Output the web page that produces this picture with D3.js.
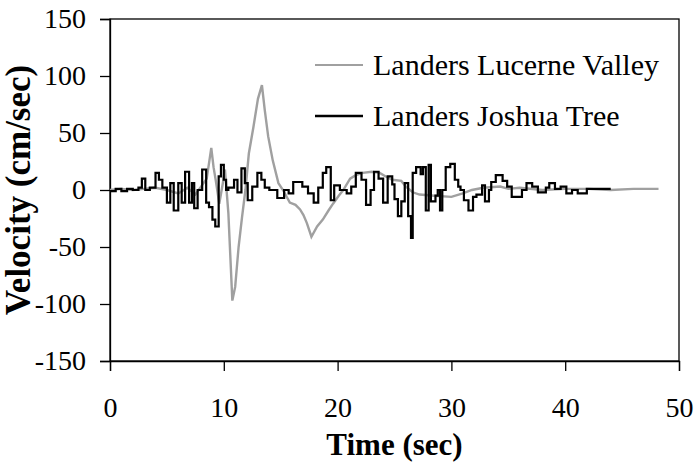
<!DOCTYPE html>
<html>
<head>
<meta charset="utf-8">
<script src="https://cdn.jsdelivr.net/npm/d3@7"></script>
<style>
  html, body { margin: 0; padding: 0; background: #fff; }
  svg { display: block; }
  text { font-family: "Liberation Serif", "Times New Roman", serif; fill: #000; }
</style>
</head>
<body>
<svg id="chart" width="694" height="464"></svg>
<script>
// ---------- data ----------
const seriesNames = ["Landers Lucerne Valley", "Landers Joshua Tree"];
const xTicks = [0, 10, 20, 30, 40, 50];
const yTicks = [-150, -100, -50, 0, 50, 100, 150];

// Landers Lucerne Valley: time (sec)
const lucerneTime = [0, 1, 2, 3, 4, 5, 6, 6.8, 7.5, 8.0, 8.5, 8.9, 9.1, 9.3, 9.6, 9.9, 10.1, 10.4, 10.75, 11.0, 11.3, 11.6, 11.9, 12.2, 12.6, 13.0, 13.35, 13.6, 13.9, 14.3, 14.8, 15.2, 15.8, 16.3, 16.7, 17.0, 17.3, 17.7, 18.2, 18.7, 19.2, 19.6, 20.1, 20.5, 21.1, 21.6, 22.2, 23.0, 23.7, 24.2, 24.8, 25.6, 26.0, 26.6, 27.2, 28.5, 30.0, 31.0, 31.8, 32.8, 34.3, 35.0, 36.0, 38.0, 40.0, 42.0, 44.0, 46.0, 48.2];
// Landers Lucerne Valley: velocity (cm/sec)
const lucerneVel = [0, 1, 0, 1, 2, 0, -3, 2, -4, 3, 10, 37, 20, 8, -12, 5, 18, -20, -97, -85, -50, -24, 0, 32, 55, 80, 92, 70, 47, 26, 6, 0, -11, -13, -17, -22, -29, -41, -32, -26, -18, -12, -5, 0, 10, 13, 15, 16, 15, 12, 9, 8, 3, -2, -4, -5, -6, -3, 0, 2, 3, 1, 2, 0, 1, 1, 0, 1, 1];

// Landers Joshua Tree: time (sec)
const joshuaTime = [0, 0.5, 1.0, 1.5, 2.0, 2.5, 2.8, 3.1, 3.5, 4.0, 4.3, 4.6, 5.0, 5.3, 5.6, 6.0, 6.3, 6.6, 6.95, 7.2, 7.4, 7.7, 8.1, 8.45, 8.7, 9.0, 9.25, 9.55, 9.75, 10.0, 10.2, 10.4, 10.9, 11.2, 11.55, 11.85, 12.1, 12.5, 12.95, 13.3, 13.6, 14.0, 14.7, 15.3, 15.7, 16.1, 16.9, 17.4, 17.9, 18.3, 18.7, 19.0, 19.4, 19.7, 20.2, 20.8, 21.2, 21.6, 22.1, 22.5, 22.9, 23.2, 23.6, 24.0, 24.4, 24.8, 25.0, 25.3, 25.6, 25.9, 26.2, 26.45, 26.6, 26.9, 27.3, 27.5, 27.75, 28.0, 28.2, 28.6, 28.8, 29.0, 29.2, 29.5, 29.9, 30.3, 30.6, 30.8, 31.1, 31.5, 31.9, 32.2, 32.7, 32.95, 33.3, 33.5, 33.9, 34.5, 34.9, 35.3, 36.2, 36.6, 37.1, 37.6, 38.3, 38.6, 39.1, 39.6, 40.1, 40.6, 41.1, 41.9, 44.0];
// Landers Joshua Tree: velocity (cm/sec)
const joshuaVel = [-1, 1, -1, 1, 0, 2, 10, 0, 2, 15, 9, 2, -11, 6, -18, 6, -11, 16, -11, 6, -16, 0, 18, -11, -15, -26, -32, 12, 22, 9, 0, 2, 9, -2, 19, 6, -9, 3, 15, 9, 2, 0, -7, 0, -3, 7, 3, -3, -11, 2, 15, 20, -9, 4, 0, -3, 3, 15, 9, -13, 0, 16, 10, -11, 12, 5, -8, -23, -10, 6, -23, -42, 15, 20, 14, 20, -18, 22, -10, -5, 0, -18, 0, 20, 23, 9, 3, 0, -9, -18, -6, -4, 4, -10, 0, 7, 13, 8, 3, -6, 0, 6, 3, -2, 2, 6, 1, 3, -3, 0, -3, 1, 1];

// ---------- chart ----------
const svg = d3.select("#chart");
const m = { left: 110, top: 19, right: 15, bottom: 103 };
const W = 694 - m.left - m.right;
const H = 464 - m.top - m.bottom;

const x = d3.scaleLinear().domain([0, 50]).range([0, W]);
const y = d3.scaleLinear().domain([-150, 150]).range([H, 0]);

const g = svg.append("g").attr("transform", `translate(${m.left},${m.top})`);

// frame
g.append("rect").attr("x", 0).attr("y", 0).attr("width", W).attr("height", H)
  .attr("fill", "none").attr("stroke", "#000").attr("stroke-width", 1.3);

// axes
const xAxis = g.append("g").attr("transform", `translate(0,${H})`)
  .call(d3.axisBottom(x).tickValues(xTicks).tickSize(10).tickPadding(26).tickFormat(d3.format("d")));
const yAxis = g.append("g")
  .call(d3.axisLeft(y).tickValues(yTicks).tickSize(10).tickPadding(14).tickFormat(d => d < 0 ? "-" + Math.abs(d) : d));
[xAxis, yAxis].forEach(a => {
  a.select(".domain").attr("stroke", "#000").attr("stroke-width", 1.3);
  a.selectAll(".tick line").attr("stroke", "#000").attr("stroke-width", 1.3);
  a.selectAll(".tick text").style("font-family", '"Liberation Serif", serif').style("font-size", "28px").attr("fill", "#000");
});

// lines
const lucerne = lucerneTime.map((t, i) => [t, lucerneVel[i]]);
const joshua = joshuaTime.map((t, i) => [t, joshuaVel[i]]);

g.append("path").datum(lucerne)
  .attr("fill", "none").attr("stroke", "#a0a0a0").attr("stroke-width", 2.4)
  .attr("d", d3.line().x(d => x(d[0])).y(d => y(d[1])));

g.append("path").datum(joshua)
  .attr("fill", "none").attr("stroke", "#000").attr("stroke-width", 2.2)
  .attr("d", d3.line().curve(d3.curveStepAfter).x(d => x(d[0])).y(d => y(d[1])));

// legend
const legend = svg.append("g");
const colors = ["#a0a0a0", "#000"];
const widths = [2.2, 2.4];
seriesNames.forEach((name, i) => {
  const ly = 65 + i * 51;
  legend.append("line").attr("x1", 315).attr("x2", 363).attr("y1", ly).attr("y2", ly)
    .attr("stroke", colors[i]).attr("stroke-width", widths[i]);
  legend.append("text").attr("x", 373).attr("y", ly + 10)
    .style("font-size", "30px").text(name);
});

// axis titles
svg.append("text").attr("x", m.left + W / 2).attr("y", 455)
  .attr("text-anchor", "middle").style("font-size", "31px").style("font-weight", "bold")
  .text("Time (sec)");
svg.append("text").attr("transform", `translate(30,${m.top + H / 2}) rotate(-90)`)
  .attr("text-anchor", "middle").style("font-size", "35px").style("font-weight", "bold")
  .text("Velocity (cm/sec)");
</script>
</body>
</html>
